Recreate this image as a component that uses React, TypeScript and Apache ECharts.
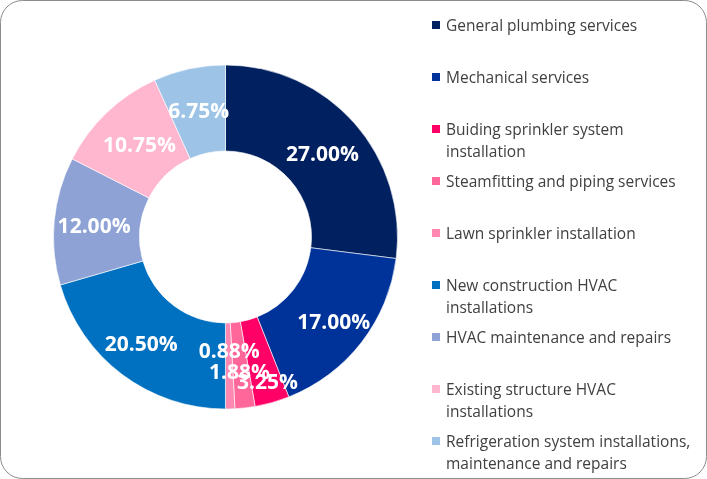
import React, { useEffect, useRef } from "react";
import * as echarts from "echarts";

const categories: string[] = [
  "General plumbing services",
  "Mechanical services",
  "Buiding sprinkler system\ninstallation",
  "Steamfitting and piping services",
  "Lawn sprinkler installation",
  "New construction HVAC\ninstallations",
  "HVAC maintenance and repairs",
  "Existing structure HVAC\ninstallations",
  "Refrigeration system installations,\nmaintenance and repairs",
];

const shares: number[] = [27.0, 17.0, 3.25, 1.88, 0.88, 20.5, 12.0, 10.75, 6.75];

const colors: string[] = [
  "#002060",
  "#003399",
  "#FF0066",
  "#FF6699",
  "#FF88B2",
  "#0070C0",
  "#8EA2D6",
  "#FFB6CF",
  "#9DC3E6",
];

// label nudges (Excel-style placement of a few labels)
const labelNudges: [number, number][] = [
  [-2, 3],
  [4, 3],
  [6, 17],
  [-1, 3],
  [0, -19],
  [-5, 0],
  [0, 0],
  [5, 3],
  [1, 2],
];

export default function App() {
  const ref = useRef<HTMLDivElement>(null);

  useEffect(() => {
    if (!ref.current) return;
    const chart = echarts.init(ref.current, null, { renderer: "svg" });
    const fontFamily = "'Open Sans', 'Noto Sans', sans-serif";
    chart.setOption({
      animation: false,
      color: colors,
      graphic: [
        {
          type: "rect",
          shape: { x: 0.5, y: 0.5, width: 706, height: 478, r: 22 },
          style: { fill: "#ffffff", stroke: "#8c8c8c", lineWidth: 1 },
          z: -10,
          silent: true,
        },
      ],
      legend: {
        orient: "vertical",
        left: 430,
        top: -8,
        height: 520,
        padding: 0,
        itemWidth: 10,
        itemHeight: 10,
        itemGap: -14,
        icon: "rect",
        selectedMode: false,
        data: categories,
        formatter: (name: string) => {
          const parts = name.split("\n");
          return "\n" + parts[0] + "\n" + (parts[1] || " ");
        },
        textStyle: {
          color: "#404040",
          fontSize: 15.5,
          fontFamily,
          lineHeight: 22,
        },
      },
      series: [
        {
          type: "pie",
          center: [225.5, 237],
          radius: [86, 172],
          startAngle: 90,
          clockwise: true,
          data: categories.map((name, i) => ({ name, value: shares[i] })),
          itemStyle: { borderColor: "#ffffff", borderWidth: 0.6 },
          label: {
            show: true,
            position: "inside",
            color: "#ffffff",
            fontWeight: "bold",
            fontSize: 21,
            fontFamily,
            formatter: (p: any) => shares[p.dataIndex].toFixed(2) + "%",
          },
          labelLine: { show: false },
          labelLayout: (p: any) => ({
            dx: labelNudges[p.dataIndex][0],
            dy: labelNudges[p.dataIndex][1],
          }),
          emphasis: { disabled: true },
        },
      ],
    });
    return () => chart.dispose();
  }, []);

  return (
    <div
      ref={ref}
      style={{ position: "fixed", left: 0, top: 0, width: 707, height: 479 }}
    />
  );
}
